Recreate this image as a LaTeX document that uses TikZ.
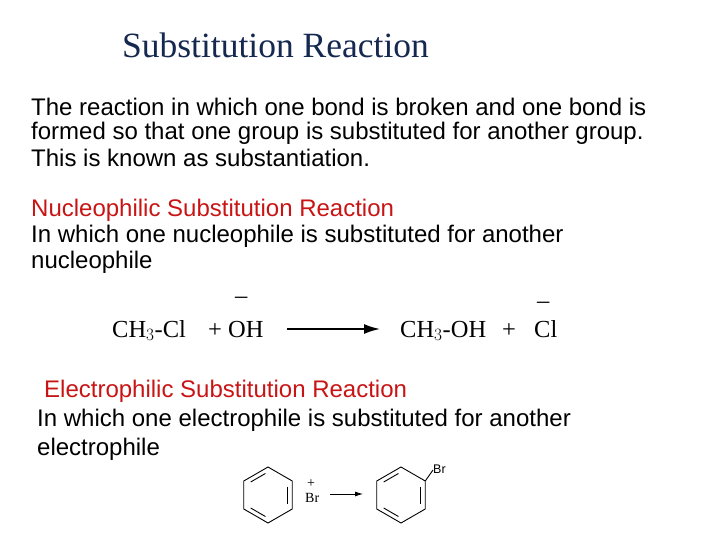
\documentclass[tikz,border=0pt]{standalone}
\usepackage{fontspec}
\setmainfont{Liberation Serif}
\newfontfamily\arial{Liberation Sans}
\usetikzlibrary{arrows.meta}
\begin{document}
\begin{tikzpicture}[x=1pt,y=-1pt,
  body/.style={anchor=west,font=\arial\fontsize{24}{28}\selectfont,inner sep=0},
  chem/.style={anchor=base west,font=\fontsize{24.5}{28}\selectfont,inner sep=0},
  small/.style={anchor=base west,font=\arial\fontsize{12.5}{14}\selectfont,inner sep=0},
  smallt/.style={anchor=base west,font=\fontsize{14}{16}\selectfont,inner sep=0},
  bond/.style={line width=0.9pt},
  inner/.style={line width=0.9pt,shorten >=3pt,shorten <=3pt},
  rarrow/.style={line width=1.8pt,-{Latex[length=16pt,width=10pt]}},
  sarrow/.style={line width=0.8pt,-{Latex[length=8pt,width=5pt]}}]
\useasboundingbox (0,0) rectangle (720,540);
\node[anchor=west,inner sep=0,font=\fontsize{35.5}{40}\selectfont,text={rgb,255:red,20;green,40;blue,80}] (title) at (122,45) {Substitution Reaction};
\node[body] (l1) at (31,107) {The reaction in which one bond is broken and one bond is};
\node[body] (l2) at (31,133) {formed so that one group is substituted for another group.};
\node[body] (l3) at (31,158) {This is known as substantiation.};
\node[body,text={rgb,255:red,200;green,20;blue,20}] (n1) at (31,210) {Nucleophilic Substitution Reaction};
\node[body] (n2) at (31,236) {In which one nucleophile is substituted for another};
\node[body] (n3) at (31,262) {nucleophile};
\node[body,text={rgb,255:red,200;green,20;blue,20}] (e1) at (44,391) {Electrophilic Substitution Reaction};
\node[body] (e2) at (37,420) {In which one electrophile is substituted for another};
\node[body] (e3) at (37,449) {electrophile};
% reaction 1
\node[chem] (r1) at (112,337) {CH$_3$-Cl};
\node[chem] (r2) at (208,337) {+ OH};
\node[chem] (m1) at (235,303) {--};
\coordinate (a1) at (287,329);
\coordinate (a2) at (380,329);
\draw[rarrow] (a1) -- (a2);
\node[chem] (p1) at (400,337) {CH$_3$-OH};
\node[chem] (p2) at (502,337) {+};
\node[chem] (p3) at (534,337) {Cl};
\node[chem] (m2) at (537,308) {--};
% reaction 2
\foreach \c in {268,401}{
  \begin{scope}[shift={(\c,495)}]
  \coordinate (T) at (0,-28); \coordinate (UR) at (24.25,-14);
  \coordinate (LR) at (24.25,14); \coordinate (B) at (0,28);
  \coordinate (LL) at (-24.25,14); \coordinate (UL) at (-24.25,-14);
  \draw[bond] (T) -- (UR) -- (LR) -- (B) -- (LL) -- (UL) -- cycle;
  \draw[inner] (0,-23) -- (-19.9,-11.5);
  \draw[inner] (19.9,-11.5) -- (19.9,11.5);
  \draw[inner] (0,23) -- (-19.9,11.5);
  \end{scope}
}
\coordinate (brb) at (433,470);
\draw[bond] (425.25,481) -- (brb);
\node[small] (brs) at (433,473) {Br};
\node[smallt] (brp) at (307,487) {+};
\node[smallt] (br) at (305,502) {Br};
\coordinate (s1) at (330,494);
\coordinate (s2) at (363,494);
\draw[sarrow] (s1) -- (s2);
\end{tikzpicture}
\end{document}
